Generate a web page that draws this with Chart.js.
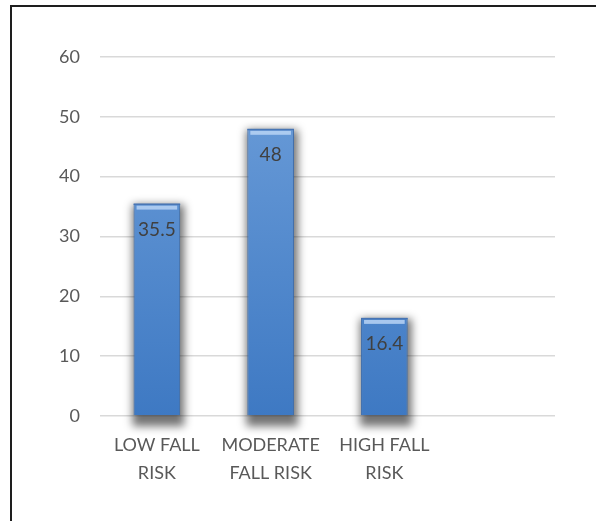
<!DOCTYPE html>
<html>
<head>
<meta charset="utf-8">
<script src="https://cdn.jsdelivr.net/npm/chart.js@4/dist/chart.umd.min.js"></script>
<style>
  html, body { margin: 0; padding: 0; background: #fff; }
  #wrap { position: relative; width: 596px; height: 521px; overflow: hidden; }
  #frame { position: absolute; left: 10px; top: 5px; width: 700px; height: 600px;
           border-left: 2px solid #1e1e1e; border-top: 2px solid #1e1e1e; }
  canvas { position: absolute; left: 0; top: 0; }
</style>
</head>
<body>
<div id="wrap">
  <div id="frame"></div>
  <canvas id="chart" width="596" height="521"></canvas>
</div>
<script>
// Fall-risk groups and their percentages
const categories = [['LOW FALL', 'RISK'], ['MODERATE', 'FALL RISK'], ['HIGH FALL', 'RISK'], ''];
const percentages = [35.5, 48, 16.4, null];
const yTicks = [0, 10, 20, 30, 40, 50, 60];

const FONT = 'Lato, "Open Sans", sans-serif';

// Vertical blue gradient for the bars
function barFill(context) {
  const { chart } = context;
  const area = chart.chartArea;
  if (!area) return '#4f81bd';
  const g = chart.ctx.createLinearGradient(0, area.top, 0, area.bottom);
  g.addColorStop(0, '#6e9fda');
  g.addColorStop(1, '#3e79c3');
  return g;
}

function eachBar(chart, fn) {
  const meta = chart.getDatasetMeta(0);
  const data = chart.data.datasets[0].data;
  meta.data.forEach((bar, i) => {
    const v = data[i];
    if (v === null || v === undefined) return;
    const p = bar.getProps(['x', 'y', 'width', 'base'], true);
    fn(p, v);
  });
}

// Soft drop shadow behind the bars, then a glossy top band and the value labels
const barStyle = {
  id: 'barStyle',
  beforeDatasetsDraw(chart) {
    const ctx = chart.ctx;
    eachBar(chart, ({ x, y, width, base }) => {
      const left = x - width / 2;
      ctx.save();
      ctx.filter = 'blur(4px)';
      ctx.fillStyle = 'rgba(0,0,0,0.55)';
      ctx.fillRect(left - 1, y + 1, width + 5, base - y + 10);
      ctx.restore();
    });
  },
  afterDatasetsDraw(chart) {
    const ctx = chart.ctx;
    eachBar(chart, ({ x, y, width }, v) => {
      const left = x - width / 2;
      ctx.save();
      ctx.fillStyle = 'rgba(185,212,245,0.85)';
      ctx.fillRect(left + 3, y + 2, width - 6, 4);
      ctx.fillStyle = 'rgba(70,115,180,0.9)';
      ctx.fillRect(left, y, width, 1.5);
      ctx.fillStyle = '#404040';
      ctx.font = '19px ' + FONT;
      ctx.textAlign = 'center';
      ctx.textBaseline = 'middle';
      ctx.fillText(String(v), x, y + 26);
      ctx.restore();
    });
  }
};

new Chart(document.getElementById('chart'), {
  type: 'bar',
  data: {
    labels: categories,
    datasets: [{
      data: percentages,
      backgroundColor: barFill,
      borderColor: '#3a6cae',
      borderWidth: 1,
      barPercentage: 0.41,
      categoryPercentage: 1,
      clip: false
    }]
  },
  options: {
    responsive: false,
    animation: false,
    events: [],
    layout: { padding: { top: 57, right: 41, bottom: 0, left: 0 } },
    plugins: { legend: { display: false }, tooltip: { enabled: false } },
    scales: {
      x: {
        grid: { display: false },
        border: { display: false },
        ticks: {
          color: '#595959',
          font: { family: FONT, size: 18, lineHeight: 1.55 },
          padding: 7,
          maxRotation: 0,
          autoSkip: false
        },
        afterFit(scale) { scale.height = 105; }
      },
      y: {
        min: 0,
        max: 60,
        afterBuildTicks(scale) { scale.ticks = yTicks.map(v => ({ value: v })); },
        grid: { color: '#d9d9d9', lineWidth: 1.5, drawTicks: false },
        border: { display: false },
        ticks: {
          color: '#595959',
          font: { family: FONT, size: 18 },
          padding: 20
        },
        afterFit(scale) { scale.width = 100; }
      }
    }
  },
  plugins: [barStyle]
});
</script>
</body>
</html>
